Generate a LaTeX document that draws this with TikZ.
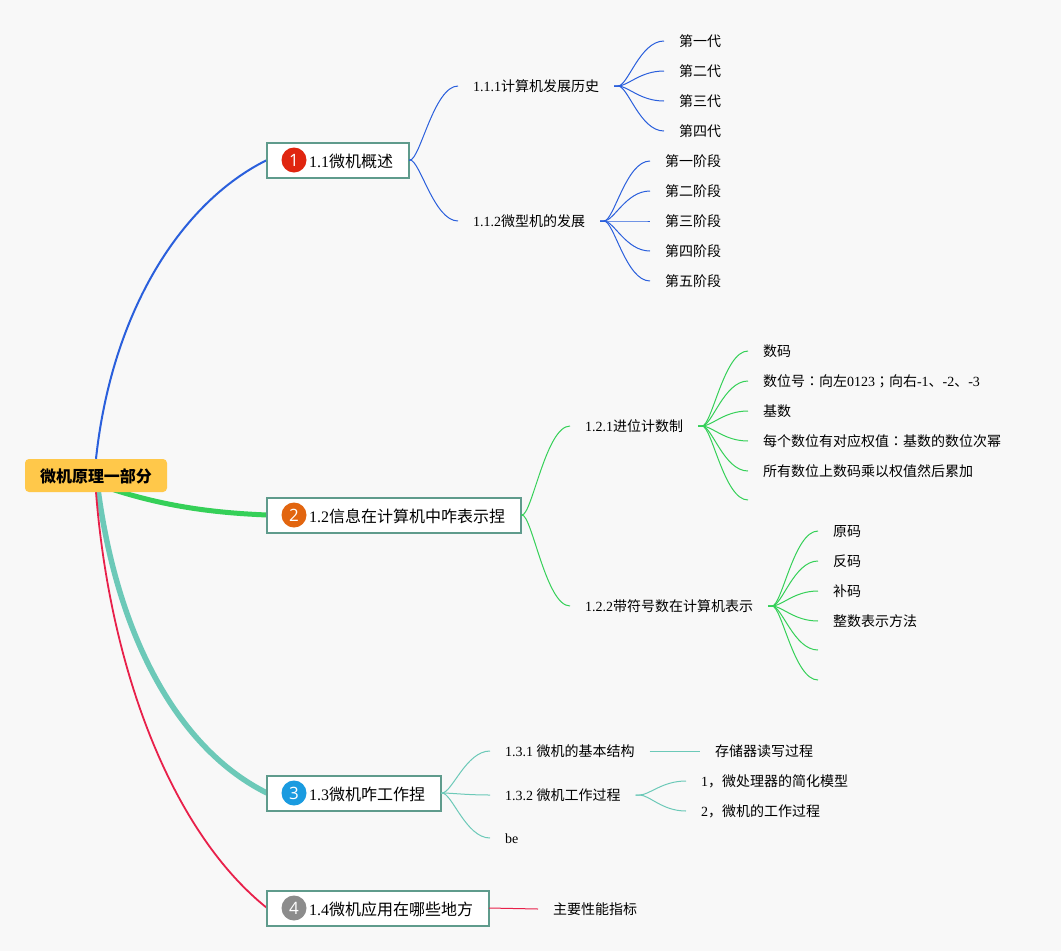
\documentclass[tikz,border=0pt]{standalone}
\usepackage{fontspec}
\usetikzlibrary{backgrounds,calc}
\setmainfont{Liberation Serif}
\setsansfont{Open Sans}
\newfontfamily\cjk{Noto Sans CJK SC}
\newfontfamily\cjkpunct{Noto Sans CJK TC}
\newcommand{\zh}[1]{{\cjk #1}}
\newcommand{\zhp}[1]{{\cjkpunct #1}}
\definecolor{bgcol}{HTML}{F8F8F8}
\definecolor{rootcol}{HTML}{FFC84A}
\definecolor{edgecol}{HTML}{5F9B8C}
\definecolor{bluecol}{HTML}{2A5FDC}
\definecolor{greencol}{HTML}{35D058}
\definecolor{tealcol}{HTML}{6CC9B8}
\definecolor{redcol}{HTML}{E8204A}
\tikzset{
  rootnode/.style={fill=rootcol, rounded corners=4pt, minimum width=142pt, minimum height=33pt, inner sep=0pt, text height=15pt, text depth=1pt, font=\fontsize{16}{18}\selectfont\bfseries},
  topicnode/.style={draw=edgecol, fill=white, line width=2pt, anchor=west, outer sep=0pt, minimum height=35pt, inner xsep=16pt, inner ysep=0pt, text height=15pt, text depth=1pt, font=\fontsize{16}{18}\selectfont},
  badgenode/.style={circle, minimum size=25pt, inner sep=0pt, text=white, font=\sffamily\fontsize{17}{18}\selectfont},
  subnode/.style={anchor=west, outer sep=0pt, inner xsep=15pt, inner ysep=0pt, text height=12pt, text depth=2pt, font=\fontsize{14}{16}\selectfont},
  thinline/.style={line width=1pt},
  fan/.style={to path={-- ++(#1,0) .. controls +(10pt,0pt) and ($(\tikztotarget)+(-24pt,0pt)$) .. (\tikztotarget)}},
}
\begin{document}
\begin{tikzpicture}[x=1pt,y=-1pt]
\useasboundingbox (0,0) rectangle (1061,951);

% centre and main topics
\node[rootnode] (root) at (96,475.5) {\zh{微机原理一部分}};
\node[topicnode] (topicA) at (267,160) {\kern26pt 1.1\zh{微机概述}};
\node[topicnode] (topicB) at (267,515) {\kern26pt 1.2\zh{信息在计算机中咋表示捏}};
\node[topicnode] (topicC) at (267,793) {\kern26pt 1.3\zh{微机咋工作捏}};
\node[topicnode] (topicD) at (267,908) {\kern26pt 1.4\zh{微机应用在哪些地方}};

% badges
\foreach \topicname/\num/\col in {topicA/1/E0250F, topicB/2/E2650F, topicC/3/1A9BE0, topicD/4/8C8C8C} {
  \definecolor{badgecol}{HTML}{\col}
  \node[badgenode, fill=badgecol] (badge\num) at ([xshift=27pt]\topicname.west) {\num};
}

% main branches
\begin{pgfonlayer}{background}
\fill[bgcol] (0,0) rectangle (1061,951);
\draw[bluecol, line width=2pt] (root.north) .. controls (112,310) and (182,202) .. (topicA.west);
\draw[greencol, line width=5pt] ([xshift=16pt,yshift=3pt]root.south) .. controls (170,508) and (220,513) .. (topicB.west);
\draw[tealcol, line width=5.5pt] ([xshift=2pt,yshift=3pt]root.south) .. controls (118,640) and (180,750) .. (topicC.west);
\draw[redcol, line width=1.8pt] (root.south) .. controls (110,670) and (172,832) .. (topicD.west);
\end{pgfonlayer}

% 1.1 branch
\node[subnode] (history) at (458,86) {1.1.1\zh{计算机发展历史}};
\node[subnode] (develop) at (458,221) {1.1.2\zh{微型机的发展}};
\foreach \name/\ypos/\txt in {gen1/41/第一代, gen2/71/第二代, gen3/101/第三代, gen4/131/第四代} {
  \node[subnode] (\name) at (664,\ypos) {\zh{\txt}};
  \draw[bluecol, thinline] (history.east) to[fan=4] (\name.west);
}
\foreach \name/\ypos/\txt in {stage1/161/第一阶段, stage2/191/第二阶段, stage3/221/第三阶段, stage4/251/第四阶段, stage5/281/第五阶段} {
  \node[subnode] (\name) at (650,\ypos) {\zh{\txt}};
  \draw[bluecol, thinline] (develop.east) to[fan=4] (\name.west);
}
\draw[bluecol, thinline] (topicA.east) to[fan=1] (history.west);
\draw[bluecol, thinline] (topicA.east) to[fan=1] (develop.west);

% 1.2 branch
\node[subnode] (radix) at (570,426) {1.2.1\zh{进位计数制}};
\node[subnode] (signed) at (570,606) {1.2.2\zh{带符号数在计算机表示}};
\foreach \name/\ypos/\txt in {
  radixA/351/\zh{数码},
  radixB/381/{\zh{数位号}\zhp{：}\zh{向左}0123\zhp{；}\zh{向右}-1\zh{、}-2\zh{、}-3},
  radixC/411/\zh{基数},
  radixD/441/{\zh{每个数位有对应权值}\zhp{：}\zh{基数的数位次幂}},
  radixE/471/\zh{所有数位上数码乘以权值然后累加}} {
  \node[subnode] (\name) at (748,\ypos) {\txt};
  \draw[greencol, thinline] (radix.east) to[fan=4] (\name.west);
}
\coordinate (radixF) at (748,500);
\draw[greencol, thinline] (radix.east) to[fan=4] (radixF);
\foreach \name/\ypos/\txt in {codeA/531/原码, codeB/561/反码, codeC/591/补码, codeD/621/整数表示方法} {
  \node[subnode] (\name) at (818,\ypos) {\zh{\txt}};
  \draw[greencol, thinline] (signed.east) to[fan=4] (\name.west);
}
\coordinate (codeE) at (818,650);
\coordinate (codeF) at (818,680);
\draw[greencol, thinline] (signed.east) to[fan=4] (codeE);
\draw[greencol, thinline] (signed.east) to[fan=4] (codeF);
\draw[greencol, thinline] (topicB.east) to[fan=1] (radix.west);
\draw[greencol, thinline] (topicB.east) to[fan=1] (signed.west);

% 1.3 branch
\node[subnode] (structure) at (490,751) {1.3.1 \zh{微机的基本结构}};
\node[subnode] (process) at (490,795) {1.3.2 \zh{微机工作过程}};
\node[subnode] (bemark) at (490,838) {be};
\node[subnode] (rwproc) at (700,751) {\zh{存储器读写过程}};
\node[subnode] (simple) at (686,781) {1\zh{，微处理器的简化模型}};
\node[subnode] (workflow) at (686,811) {2\zh{，微机的工作过程}};
\foreach \name in {structure, process, bemark}
  \draw[tealcol, thinline] (topicC.east) to[fan=1] (\name.west);
\draw[tealcol, thinline] (structure.east) -- (rwproc.west);
\foreach \name in {simple, workflow}
  \draw[tealcol, thinline] (process.east) to[fan=4] (\name.west);

% 1.4 branch
\node[subnode] (perf) at (538,909) {\zh{主要性能指标}};
\draw[redcol, thinline] (topicD.east) -- (perf.west);

\end{tikzpicture}
\end{document}
